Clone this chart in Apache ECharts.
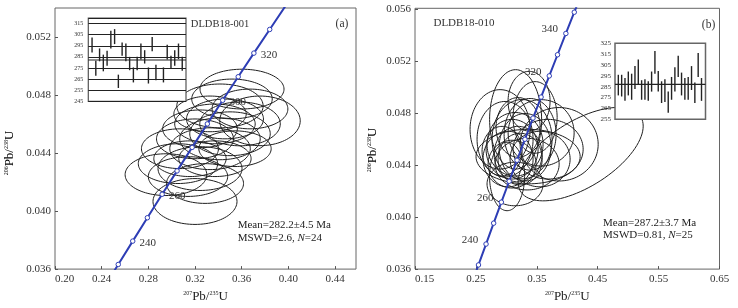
<!DOCTYPE html>
<html><head><meta charset="utf-8">
<script src="https://cdn.jsdelivr.net/npm/echarts@6/dist/echarts.min.js"></script>
<style>html,body{margin:0;padding:0;background:#fff}#c{width:738px;height:308px}</style>
</head><body><div id="c"></div>
<script>
// ---- Concordia age markers (Ma) and their ratios ----
const concordiaAges = [220,230,240,250,260,270,280,290,300,310,320,330,340,350,360];
const concordiaX = [0.24192,0.25422,0.26664,0.27917,0.29183,0.30462,0.31753,0.33057,0.34374,0.35704,0.37047,0.38403,0.39773,0.41156,0.42554];
const concordiaY = [0.03472,0.03632,0.03793,0.03954,0.04116,0.04277,0.04439,0.04601,0.04764,0.04926,0.05089,0.05252,0.05416,0.05580,0.05743];
const labelAgesA = [240,260,300,320];
const labelAgesB = [240,260,320,340];

// ---- Sample (a) error ellipses: centre x, centre y, half-width x, half-height y, rho ----
const ellA_cx = [0.3200,0.2951,0.3054,0.3140,0.3243,0.3286,0.3071,0.3200,0.3329,0.3414,0.3243,0.3371,0.3457,0.3500,0.3586,0.3757,0.3603,0.3414,0.3517,0.3671,0.3329,0.3157,0.3543,0.3371];
const ellA_cy = [0.04066,0.04251,0.04327,0.04238,0.04293,0.04190,0.04430,0.04498,0.04430,0.04498,0.04567,0.04601,0.04635,0.04533,0.04601,0.04622,0.04841,0.04725,0.04773,0.04704,0.04670,0.04361,0.04430,0.04361];
const ellA_sx = [0.0360,0.0350,0.0340,0.0340,0.0360,0.0330,0.0330,0.0330,0.0345,0.0345,0.0320,0.0345,0.0330,0.0345,0.0345,0.0345,0.0360,0.0370,0.0345,0.0325,0.0310,0.0310,0.0310,0.0310];
const ellA_sy = [0.00158,0.00144,0.00137,0.00137,0.00151,0.00137,0.00137,0.00137,0.00144,0.00144,0.00130,0.00137,0.00137,0.00151,0.00151,0.00171,0.00137,0.00151,0.00137,0.00137,0.00123,0.00123,0.00123,0.00123];
const ellA_rho = [0,0,0,0,0,0,0,0,0,0,0,0,0,0,0,0,0,0,0,0,0,0,0,0];

// ---- Sample (b) error ellipses ----
const ellB_cx = [0.3152,0.3373,0.4220,0.3357,0.3012,0.3867,0.3571,0.3094,0.3193,0.3143,0.3226,0.3028,0.3308,0.2979,0.3390,0.3094,0.3258,0.2897,0.3472,0.3686,0.3143,0.3341,0.2930,0.3554,0.3193];
const ellB_cy = [0.04754,0.04894,0.04486,0.04467,0.04314,0.04562,0.04650,0.04524,0.04486,0.04562,0.04448,0.04448,0.04539,0.04601,0.04639,0.04409,0.04601,0.04677,0.04769,0.04524,0.04256,0.04409,0.04509,0.04448,0.04692];
const ellB_sx = [0.0427,0.0345,0.1027,0.0855,0.0288,0.0641,0.0542,0.0427,0.0394,0.0460,0.0362,0.0411,0.0427,0.0460,0.0427,0.0394,0.0493,0.0493,0.0362,0.0575,0.0460,0.0526,0.0329,0.0493,0.0362];
const ellB_sy = [0.00383,0.00230,0.00360,0.00210,0.00264,0.00283,0.00256,0.00230,0.00214,0.00245,0.00199,0.00214,0.00260,0.00291,0.00276,0.00184,0.00306,0.00306,0.00276,0.00230,0.00168,0.00199,0.00191,0.00214,0.00230];
const ellB_rho = [0,0,0.6,0,0,0,0,0,0,0,0,0,0,0,0,0,0,0,0,0,0,0,0,0,0];

// ---- Inset (a): weighted-mean age bars (Ma) ----
const insetA_pos  = [1,2,3,4,5,6,7,8,9,10,11,12,13,14,15,16,17,18,20,21,22,23,24,25];
const insetA_low  = [289,268,281,272,277,292.6,296.5,257,286,281,273,262,273,282.7,279,261,290,264,262,282.7,274,277,283,272.5];
const insetA_high = [302.5,281.5,292.6,287,290.5,308.5,310,269,298,297,285,275.5,285,297,291,275.5,303,278,275.5,296,286,291,297,285];
const meanA = 282.2;

// ---- Inset (b) ----
const insetB_pos  = [1,2,3,4,5,6,7,8,9,10,11,12,13,14,15,16,17,18,19,20,21,22,23,24,25,26];
const insetB_low  = [277,276,272,277,273,283,287.5,273,273,272,280.5,297,280.5,270,271,261,273,280.5,294,277,273,273,282,270,294,272];
const insetB_high = [296,296,293,299,297,304,310,291,292,290,299,318,299.5,290,292,280.5,294,303,313.6,298,293,294,304,289,316,293];
const meanB = 287.2;

const FONT = 'Liberation Serif';
const BLUE = '#2d3db5';

function zip() { const a = arguments; return a[0].map((_, i) => Array.from(a, arr => arr[i])); }

function ellipseItem(params, api) {
  const cx = api.value(0), cy = api.value(1), sx = api.value(2), sy = api.value(3), r = api.value(4);
  const k = Math.sqrt(1 - r * r);
  const pts = [];
  for (let i = 0; i < 96; i++) {
    const t = i / 96 * Math.PI * 2;
    pts.push(api.coord([cx + sx * Math.cos(t), cy + sy * (r * Math.cos(t) + k * Math.sin(t))]));
  }
  return {type: 'polygon', shape: {points: pts}, style: {fill: 'none', stroke: '#1e1e1e', lineWidth: 1}};
}
function barItem(params, api) {
  const p1 = api.coord([api.value(0), api.value(1)]);
  const p2 = api.coord([api.value(0), api.value(2)]);
  return {type: 'line', shape: {x1: p1[0], y1: p1[1], x2: p2[0], y2: p2[1]}, style: {stroke: '#222', lineWidth: 1.4}};
}
function concordiaData(labels) {
  return concordiaX.map((x, i) => ({value: [x, concordiaY[i]], age: concordiaAges[i],
    label: {show: labels.indexOf(concordiaAges[i]) >= 0}}));
}

const supRich = {s: {fontSize: 6, verticalAlign: 'top', fontFamily: FONT, color: '#222', padding: [0, 0, 5, 0]},
                 m: {fontSize: 13, fontFamily: FONT, color: '#222'}};
const italicRich = {i: {fontStyle: 'italic', fontSize: 11, fontFamily: FONT, color: '#222'}};

function mainX(grid, min, max, interval) {
  return {type: 'value', gridIndex: grid, min: min, max: max, interval: interval,
    axisLine: {show: false}, splitLine: {show: false},
    axisTick: {show: true, inside: true, length: 3, lineStyle: {color: '#555'}},
    axisLabel: {fontFamily: FONT, fontSize: 11, color: '#333', margin: 5, showMaxLabel: max === 0.65,
      alignMinLabel: 'left', formatter: v => v.toFixed(2)},
    name: '{s|207}{m|Pb/}{s|235}{m|U}', nameLocation: 'middle', nameGap: 18,
    nameTextStyle: {rich: supRich}};
}
function mainY(grid, min, max) {
  return {type: 'value', gridIndex: grid, min: min, max: max, interval: 0.004,
    axisLine: {show: false}, splitLine: {show: false},
    axisTick: {show: true, inside: true, length: 3, lineStyle: {color: '#555'}},
    axisLabel: {fontFamily: FONT, fontSize: 11, color: '#333', margin: 4, showMaxLabel: false,
      formatter: v => v.toFixed(3)}};
}

const option = {
  animation: false,
  grid: [
    {left: 55, top: 8, width: 301, height: 263, show: true, borderColor: '#666', borderWidth: 1},
    {left: 415, top: 8.3, width: 304.5, height: 262.4, show: true, borderColor: '#666', borderWidth: 1},
    {left: 88.3, top: 18, width: 97.7, height: 83.3, show: true, borderColor: '#555', borderWidth: 1.2, backgroundColor: '#fff', z: 10},
    {left: 615, top: 43.3, width: 90.5, height: 76, show: true, borderColor: '#666', borderWidth: 1.5, backgroundColor: '#fff', z: 10}
  ],
  xAxis: [
    mainX(0, 0.2, 0.458, 0.04),
    mainX(1, 0.15, 0.65, 0.1),
    {type: 'value', gridIndex: 2, min: 0, max: 26, show: false},
    {type: 'value', gridIndex: 3, min: 0, max: 27.2, show: false}
  ],
  yAxis: [
    mainY(0, 0.036, 0.054),
    mainY(1, 0.036, 0.0561),
    {type: 'value', gridIndex: 2, min: 245, max: 320, interval: 10, z: 12,
      axisLine: {show: false}, axisTick: {show: false},
      splitLine: {show: true, lineStyle: {color: '#222', width: 1.1}},
      axisLabel: {fontFamily: FONT, fontSize: 6, color: '#333', margin: 5, showMaxLabel: false}},
    {type: 'value', gridIndex: 3, min: 255, max: 325, interval: 10, z: 12,
      axisLine: {show: false}, axisTick: {show: false}, splitLine: {show: false},
      axisLabel: {fontFamily: FONT, fontSize: 7, color: '#333', margin: 4}}
  ],
  series: [
    {type: 'custom', xAxisIndex: 0, yAxisIndex: 0, z: 2, clip: true, renderItem: ellipseItem,
      data: zip(ellA_cx, ellA_cy, ellA_sx, ellA_sy, ellA_rho)},
    {type: 'custom', xAxisIndex: 1, yAxisIndex: 1, z: 2, clip: true, renderItem: ellipseItem,
      data: zip(ellB_cx, ellB_cy, ellB_sx, ellB_sy, ellB_rho)},
    {type: 'line', xAxisIndex: 0, yAxisIndex: 0, z: 3, clip: true, data: concordiaData(labelAgesA),
      symbol: 'circle', symbolSize: 4.5, showAllSymbol: true,
      lineStyle: {color: BLUE, width: 2}, itemStyle: {color: '#fff', borderColor: BLUE, borderWidth: 1},
      label: {position: 'right', distance: 4, offset: [0, 2], fontFamily: FONT, fontSize: 11, color: '#333',
        formatter: p => String(p.data.age)}},
    {type: 'line', xAxisIndex: 1, yAxisIndex: 1, z: 3, clip: true, data: concordiaData(labelAgesB),
      symbol: 'circle', symbolSize: 4.5, showAllSymbol: true,
      lineStyle: {color: BLUE, width: 2}, itemStyle: {color: '#fff', borderColor: BLUE, borderWidth: 1},
      label: {position: 'left', distance: 5, offset: [0, -4], fontFamily: FONT, fontSize: 11, color: '#333',
        formatter: p => String(p.data.age)}},
    {type: 'line', xAxisIndex: 2, yAxisIndex: 2, z: 11, symbol: 'none', data: [[0, meanA], [26, meanA]],
      lineStyle: {color: '#222', width: 1.1}},
    {type: 'custom', xAxisIndex: 2, yAxisIndex: 2, z: 11, renderItem: barItem,
      data: zip(insetA_pos, insetA_low, insetA_high)},
    {type: 'line', xAxisIndex: 3, yAxisIndex: 3, z: 11, symbol: 'none', data: [[0, meanB], [27.2, meanB]],
      lineStyle: {color: '#222', width: 1.3}},
    {type: 'custom', xAxisIndex: 3, yAxisIndex: 3, z: 11, renderItem: barItem,
      data: zip(insetB_pos, insetB_low, insetB_high)}
  ],
  graphic: [
    {type: 'text', x: 10, y: 153, rotation: Math.PI / 2,
      style: {text: '{s|206}{m|Pb/}{s|238}{m|U}', rich: supRich, align: 'center', verticalAlign: 'middle', fontFamily: FONT}},
    {type: 'text', x: 373, y: 150, rotation: Math.PI / 2,
      style: {text: '{s|206}{m|Pb/}{s|238}{m|U}', rich: supRich, align: 'center', verticalAlign: 'middle', fontFamily: FONT}},
    {type: 'text', x: 220, y: 24, style: {text: 'DLDB18-001', fontFamily: FONT, fontSize: 10.5, fill: '#333', align: 'center', verticalAlign: 'middle'}},
    {type: 'text', x: 342, y: 24, style: {text: '(a)', fontFamily: FONT, fontSize: 11.5, fill: '#333', align: 'center', verticalAlign: 'middle'}},
    {type: 'text', x: 464, y: 22.7, style: {text: 'DLDB18-010', fontFamily: FONT, fontSize: 11, fill: '#333', align: 'center', verticalAlign: 'middle'}},
    {type: 'text', x: 708.5, y: 25, style: {text: '(b)', fontFamily: FONT, fontSize: 11.5, fill: '#333', align: 'center', verticalAlign: 'middle'}},
    {type: 'text', x: 237.7, y: 225, style: {text: 'Mean=282.2±4.5 Ma', fontFamily: FONT, fontSize: 11, fill: '#222', align: 'left', verticalAlign: 'middle'}},
    {type: 'text', x: 237.7, y: 238, style: {text: 'MSWD=2.6, {i|N}=24', rich: italicRich, fontFamily: FONT, fontSize: 11, fill: '#222', align: 'left', verticalAlign: 'middle'}},
    {type: 'text', x: 603, y: 223.3, style: {text: 'Mean=287.2±3.7 Ma', fontFamily: FONT, fontSize: 11, fill: '#222', align: 'left', verticalAlign: 'middle'}},
    {type: 'text', x: 603, y: 235.5, style: {text: 'MSWD=0.81, {i|N}=25', rich: italicRich, fontFamily: FONT, fontSize: 11, fill: '#222', align: 'left', verticalAlign: 'middle'}}
  ]
};
const chart = echarts.init(document.getElementById('c'), null, {renderer: 'canvas'});
chart.setOption(option);
</script></body></html>
